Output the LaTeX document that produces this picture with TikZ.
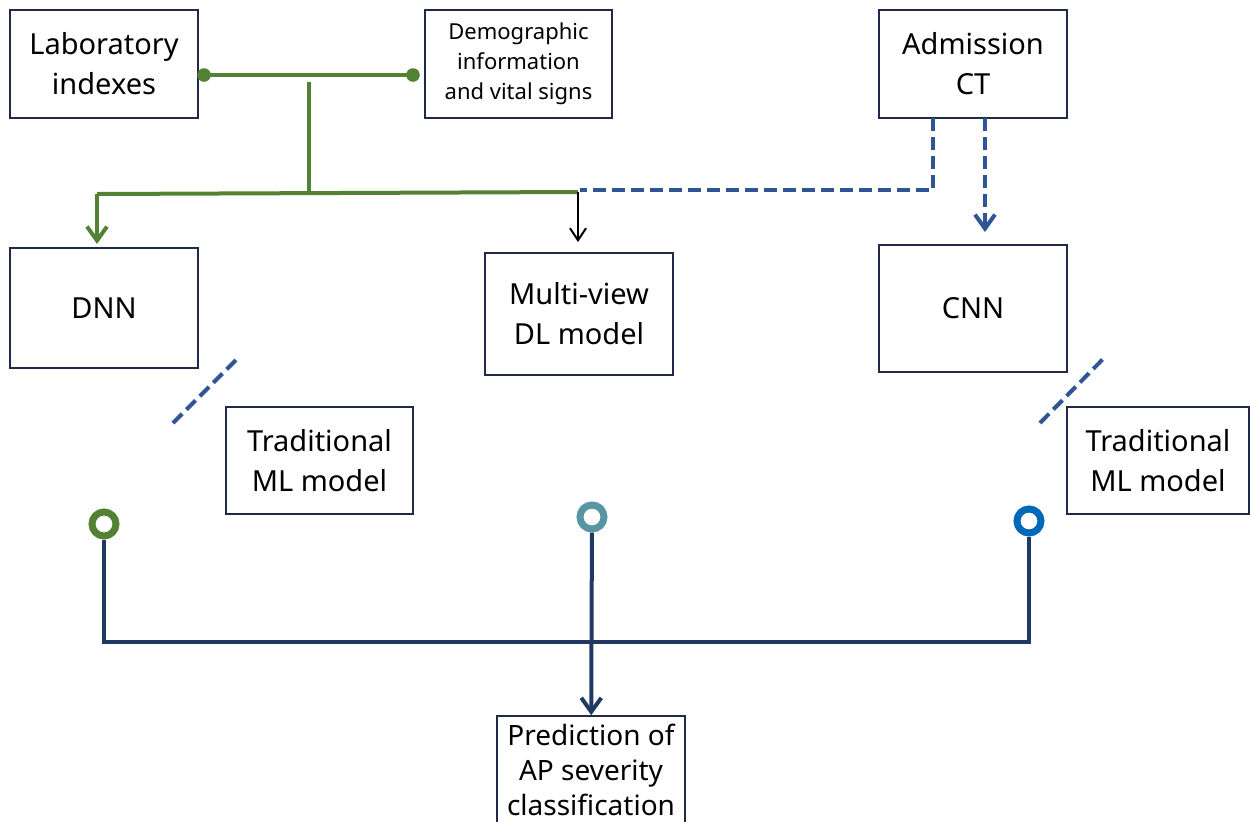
\documentclass[tikz,border=0pt]{standalone}
\usepackage{fontspec}
\setmainfont{Noto Sans}
\usetikzlibrary{arrows.meta,calc}
\definecolor{mygreen}{HTML}{548235}
\definecolor{mydash}{HTML}{2F5597}
\definecolor{mynavy}{HTML}{1F3864}
\definecolor{myborder}{HTML}{1F2A4A}
\definecolor{myteal}{HTML}{5596A2}
\definecolor{myblue}{HTML}{0068B8}
\tikzset{
  box/.style={draw=myborder, line width=0.75pt, align=center, inner sep=0pt,
    font=\fontsize{14.5}{20}\selectfont},
  smallbox/.style={box, font=\fontsize{11}{15}\selectfont},
  greenline/.style={draw=mygreen, line width=2pt},
  bluedash/.style={draw=mydash, line width=2pt, dash pattern=on 6.5pt off 3pt},
  navyline/.style={draw=mynavy, line width=2pt},
  tip/.style={-{Straight Barb[length=7pt,width=10pt,line width=2pt]}},
  thintip/.style={-{Straight Barb[length=6pt,width=8pt,line width=1pt]}},
  ring/.style={circle, draw=#1, line width=3.5pt, fill=white, minimum size=12pt, inner sep=0pt},
}
\begin{document}
\begin{tikzpicture}[x=0.5pt,y=-0.5pt]
\useasboundingbox (0,0) rectangle (1250,821);
% boxes
\node[box, minimum width=94pt, minimum height=54pt] (lab) at (104,64) {Laboratory\\indexes};
\node[smallbox, minimum width=93.5pt, minimum height=54pt] (demo) at (518.5,64) {Demographic\\information\\and vital signs};
\node[box, minimum width=94pt, minimum height=54pt] (adm) at (973,64) {Admission\\CT};
\node[box, minimum width=94pt, minimum height=60pt] (dnn) at (104,308) {DNN};
\node[box, minimum width=94pt, minimum height=61pt] (mv) at (579,314) {Multi-view\\DL model};
\node[box, minimum width=94pt, minimum height=63.5pt] (cnn) at (973,308.5) {CNN};
\node[box, minimum width=93.5pt, minimum height=53.5pt] (tml1) at (319.5,460.5) {Traditional\\ML model};
\node[box, minimum width=91pt, minimum height=53.5pt] (tml2) at (1158,460.5) {Traditional\\ML model};
\node[box, minimum width=94pt, minimum height=54pt, font=\fontsize{14}{17.5}\selectfont] (pred) at (591,770) {Prediction of\\AP severity\\classification};
% green connectors
\coordinate (g1) at (204,75);
\coordinate (g2) at (413,75);
\coordinate (gt) at (309,82);
\coordinate (gb) at (309,194);
\coordinate (gl) at (97,194);
\coordinate (gr) at (578,192);
\coordinate (dl) at (97,244);
\draw[greenline] (g1) -- (g2);
\fill[mygreen] (g1) circle (3.4pt);
\fill[mygreen] (g2) circle (3.4pt);
\draw[greenline] (gt) -- (gb);
\draw[greenline] (gr) -- (gl);
\draw[greenline, tip] (gl) -- (dl);
% black arrow
\coordinate (ml) at (578,242);
\draw[line width=1pt, black, thintip] (gr) -- (ml);
% blue dashed
\coordinate (d1) at (933,118);
\coordinate (d2) at (933,190);
\coordinate (d3) at (580,190);
\draw[bluedash] (d1) -- (d2) -- (d3);
\coordinate (a1) at (985,118);
\coordinate (a2) at (985,232);
\draw[bluedash, tip] (a1) -- (a2);
% diagonal dashed
\draw[bluedash] (173,423) -- (238,358);
\draw[bluedash] (1040,423) -- (1104,358);
% rings
\node[ring=mygreen] (c1) at (104,524) {};
\node[ring=myteal] (c2) at (592,517) {};
\node[ring=myblue] (c3) at (1029,521) {};
\coordinate (hb) at (592,642);
\draw[navyline] (c1) |- (hb) -| (c3);
\draw[navyline, tip] (c2) -- (pred);
\end{tikzpicture}
\end{document}
